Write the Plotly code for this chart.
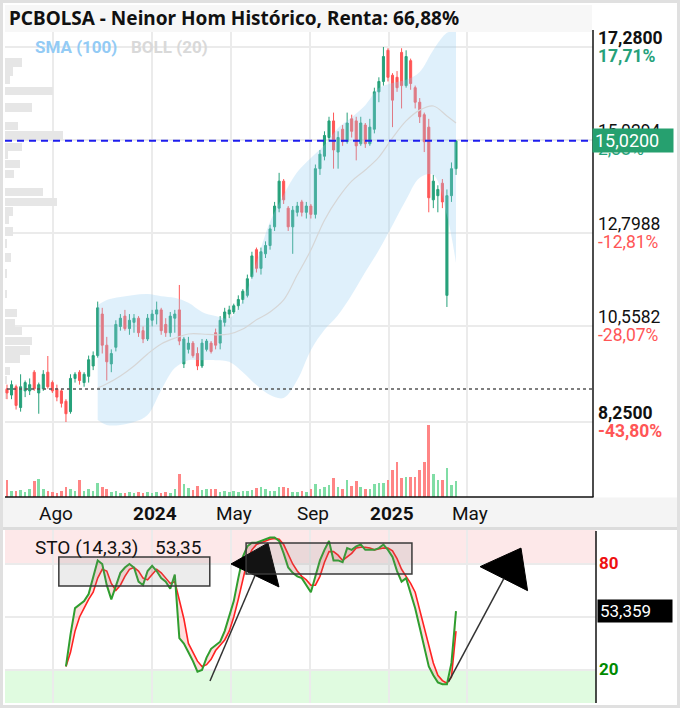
import plotly.graph_objects as go
import pandas as pd

W, H = 683, 708

# ---------------- data ----------------
START = "2023-05-22"
N = 100
dates = pd.date_range(START, periods=N, freq="7D")

OPEN = [9.05, 8.90, 9.10, 8.60, 9.00, 9.00, 9.45, 8.95, 9.05, 9.45,
        9.20, 9.05, 9.00, 8.75, 8.50, 9.30, 9.45, 9.20, 9.35, 9.60,
        9.85, 10.85, 10.10, 9.65, 10.05, 10.55, 10.80, 10.50, 10.65, 10.75,
        10.45, 10.25, 10.70, 10.85, 10.95, 10.60, 10.40, 10.75, 10.95, 9.65,
        10.00, 10.15, 9.90, 9.60, 10.00, 10.15, 10.40, 10.15, 10.65, 10.85,
        10.90, 11.05, 11.20, 11.30, 11.75, 12.40, 11.95, 12.30, 12.50, 12.95,
        13.40, 14.05, 13.40, 12.95, 13.30, 13.55, 13.30, 13.45, 13.25, 14.35,
        14.65, 15.10, 15.50, 14.75, 15.30, 15.00, 15.55, 15.50, 14.95, 15.40,
        14.95, 15.30, 16.20, 16.45, 17.20, 16.60, 16.55, 17.15, 16.35, 16.95,
        16.30, 15.95, 15.65, 15.35, 13.60, 13.70, 14.00, 11.30, 13.70, 14.35]
HIGH = [9.15, 9.25, 9.15, 9.40, 9.25, 9.30, 9.50, 9.20, 9.50, 9.84,
        9.25, 9.15, 9.05, 8.80, 9.40, 9.45, 9.50, 9.45, 9.85, 9.95,
        11.15, 11.00, 10.30, 10.00, 10.70, 10.85, 10.95, 10.85, 10.85, 10.80,
        10.55, 10.85, 10.95, 11.15, 11.00, 10.75, 10.90, 10.95, 11.55, 10.30,
        10.30, 10.20, 10.05, 10.25, 10.25, 10.20, 10.50, 10.80, 11.00, 11.05,
        11.10, 11.30, 11.45, 11.80, 12.35, 12.45, 12.45, 12.60, 13.00, 13.55,
        14.25, 14.10, 13.45, 13.45, 13.55, 13.60, 13.55, 13.50, 14.45, 14.80,
        15.25, 15.60, 15.70, 15.25, 15.40, 15.70, 15.65, 15.60, 15.60, 15.45,
        15.55, 16.30, 16.55, 17.28, 17.25, 16.65, 16.70, 17.25, 17.20, 17.00,
        16.35, 16.05, 15.70, 15.55, 14.20, 13.95, 14.10, 13.85, 14.50, 15.02]
LOW = [8.80, 8.80, 8.55, 8.50, 8.85, 8.90, 9.00, 8.45, 9.00, 9.05,
       8.95, 8.75, 8.60, 8.25, 8.45, 9.20, 9.15, 9.10, 9.20, 9.50,
       9.80, 9.90, 9.25, 9.45, 9.95, 10.45, 10.45, 10.35, 10.40, 10.30,
       10.15, 10.20, 10.55, 10.60, 10.35, 10.30, 10.30, 10.40, 10.10, 9.55,
       9.90, 9.80, 9.50, 9.55, 9.95, 9.90, 10.00, 10.00, 10.55, 10.75,
       10.85, 10.95, 11.10, 11.25, 11.70, 11.85, 11.80, 12.20, 12.40, 12.85,
       13.30, 13.50, 12.85, 12.30, 13.20, 13.20, 13.15, 13.15, 13.15, 14.20,
       14.55, 15.00, 14.35, 14.35, 14.90, 14.95, 15.10, 14.55, 14.90, 14.85,
       14.90, 15.20, 15.95, 16.35, 16.45, 15.35, 16.20, 15.80, 16.30, 16.25,
       15.80, 15.45, 14.75, 13.30, 13.40, 13.30, 13.40, 11.02, 13.55, 14.20]
CLOSE = [8.95, 9.15, 8.65, 9.10, 9.20, 9.15, 9.05, 9.15, 9.40, 9.10,
         9.00, 8.85, 8.70, 8.45, 9.30, 9.40, 9.25, 9.40, 9.75, 9.85,
         11.00, 10.10, 9.70, 9.90, 10.60, 10.75, 10.50, 10.70, 10.75, 10.40,
         10.25, 10.75, 10.85, 10.95, 10.45, 10.40, 10.80, 10.85, 10.20, 10.25,
         10.15, 9.85, 9.60, 10.15, 10.20, 9.95, 10.10, 10.70, 10.90, 10.95,
         11.05, 11.20, 11.40, 11.70, 12.25, 11.95, 12.35, 12.50, 12.90, 13.45,
         14.05, 13.60, 12.95, 13.35, 13.45, 13.30, 13.45, 13.25, 14.35, 14.70,
         15.15, 15.50, 14.80, 15.10, 15.00, 15.45, 15.25, 14.90, 15.45, 14.95,
         15.35, 16.20, 16.45, 17.05, 16.55, 16.00, 16.30, 16.35, 17.05, 16.40,
         15.95, 15.60, 15.00, 13.65, 14.05, 13.85, 13.55, 13.70, 14.35, 15.02]
VOLUME = [170000, 60000, 60000, 70000, 50000, 80000, 160000, 180000, 80000, 60000,
          50000, 40000, 60000, 100000, 80000, 60000, 170000, 60000, 80000, 60000,
          140000, 100000, 80000, 50000, 60000, 40000, 40000, 50000, 40000, 50000,
          40000, 50000, 40000, 50000, 40000, 50000, 40000, 80000, 230000, 130000,
          90000, 70000, 110000, 70000, 80000, 80000, 80000, 50000, 60000, 50000,
          60000, 50000, 60000, 60000, 70000, 90000, 100000, 80000, 60000, 60000,
          100000, 100000, 90000, 50000, 50000, 60000, 50000, 80000, 130000, 80000,
          100000, 120000, 190000, 100000, 80000, 170000, 110000, 160000, 100000, 80000,
          80000, 130000, 140000, 140000, 170000, 270000, 350000, 190000, 200000, 200000,
          200000, 270000, 350000, 720000, 230000, 170000, 170000, 290000, 120000, 160000]

# Bollinger band (20) read at selected candles
BAND_IDX = [20, 22, 25, 28, 31, 34, 37, 40, 43, 46, 49, 52, 55, 58, 61, 64, 67, 70,
            73, 76, 79, 82, 85, 88, 91, 94, 97, 99]
BOLL_UP = [11.07, 11.19, 11.26, 11.31, 11.33, 11.28, 11.24, 11.12, 10.90, 10.80,
           10.75, 11.19, 12.10, 13.07, 13.72, 14.27, 14.61, 14.92, 15.33, 15.59,
           15.88, 16.29, 16.41, 16.49, 16.68, 17.21, 17.62, 17.69]
BOLL_LOW = [8.30, 8.18, 8.18, 8.25, 8.42, 9.02, 9.55, 9.74, 9.74, 9.74,
            9.70, 9.45, 9.14, 8.90, 8.83, 9.26, 9.98, 10.47, 10.83, 11.31,
            11.86, 12.39, 12.99, 13.60, 14.13, 14.20, 13.23, 12.08]
MID_LINE = [9.07, 9.17, 9.36, 9.60, 9.89, 10.13, 10.27, 10.37, 10.37, 10.35,
            10.37, 10.49, 10.71, 10.90, 11.19, 11.79, 12.39, 13.11, 13.64, 14.05,
            14.32, 14.63, 15.09, 15.50, 15.76, 15.86, 15.62, 15.45]

# Stochastic (14,3,3), from candle 13 on
STO_START = 13
STO_K = [22, 40, 55, 57, 59, 63, 72, 82, 80, 68,
         60, 68, 75, 78, 80, 78, 70, 68, 76, 79,
         76, 72, 70, 66, 74, 38, 35, 30, 25, 19,
         20, 27, 32, 34, 36, 42, 50, 59, 72, 84,
         90, 92, 92, 93, 94, 95, 95, 93, 86, 78,
         75, 73, 72, 68, 64, 73, 82, 88, 93, 82,
         82, 81, 89, 88, 90, 91, 88, 88, 88, 89,
         91, 88, 84, 76, 70, 72, 64, 55, 44, 32,
         22, 17, 13, 12, 12, 24, 53.36]
STO_D = [22, 30, 42, 50, 55, 60, 64, 72, 77, 76,
         69, 65, 68, 73, 77, 78, 76, 72, 71, 74,
         77, 75, 72, 69, 70, 59, 49, 35, 30, 25,
         22, 23, 26, 31, 34, 37, 42, 50, 60, 71,
         82, 88, 91, 92, 93, 94, 94.5, 94, 91, 85,
         80, 76, 73, 71, 68, 68, 73, 81, 87, 87,
         85, 82, 84, 86, 89, 89.5, 89.5, 89, 88, 88.5,
         89, 89, 87.5, 83, 77, 73, 69, 64, 54, 44,
         33, 24, 17, 14, 12.5, 16, 42]

# Volume profile (left)
PROFILE_PRICE = [16.91, 16.69, 16.49, 16.22, 15.82, 15.38, 15.15, 14.88, 14.68, 14.46,
                 14.22, 13.79, 13.55, 13.32, 13.11, 12.84, 12.55, 12.21, 11.83, 11.34,
                 10.87, 10.62, 10.44, 10.20, 9.97, 9.77, 9.48, 9.26, 8.91]
PROFILE_VOL = [17000, 8000, 5000, 48000, 27000, 13000, 58000, 17000, 3000, 15000,
               9000, 38000, 52000, 8000, 4000, 8000, 1500, 6000, 2000, 2000,
               12000, 10000, 17000, 27000, 25000, 15000, 5000, 2000, 2000]

PRICE_TICKS = [17.28, 15.0294, 12.7988, 10.5582, 8.25]
PRICE_LABELS = ["17,2800", "15,0294", "12,7988", "10,5582", "8,2500"]
PCT_LABELS = ["17,71%", "2,38%", "-12,81%", "-28,07%", "-43,80%"]
LAST_PRICE = 15.02
LAST_LABEL = "15,0200"
REF_PRICE = 9.045
X_TICKS = ["2023-08-01", "2024-01-01", "2024-05-01", "2024-09-01", "2025-01-01", "2025-05-01"]
X_LABELS = ["Ago", "<b>2024</b>", "May", "Sep", "<b>2025</b>", "May"]
STO_LAST_LABEL = "53,359"
TITLE = "PCBOLSA - Neinor Hom Histórico, Renta: 66,88%"

# user drawings on the stochastic panel (date, value)
RECT1 = ("2023-08-10", "2024-03-30", 67.5, 84.0)
RECT2 = ("2024-05-25", "2025-02-05", 74.3, 91.9)
ARROW1 = dict(start=("2024-03-30 07:00", 13.8), base=("2024-06-07 19:00", 73.5),
              tri=[("2024-06-27 19:00", 91.9), ("2024-05-01 17:00", 80.0), ("2024-07-14 19:00", 67.0)])
ARROW2 = dict(start=("2025-04-02 17:00", 13.4), base=("2025-06-26 19:00", 71.7),
              tri=[("2025-07-23 08:00", 89.0), ("2025-05-21 03:00", 78.5), ("2025-08-02 12:00", 64.9)])

# ---------------- styling ----------------
GREEN = "#26a17a"
RED = "#ff5656"
FONT = "Roboto"


def fx(px):
    return px / W


def fy(py):
    return 1 - py / H


fig = go.Figure()

# volume profile (base subplot x / y)
fig.add_trace(go.Bar(y=PROFILE_PRICE, x=PROFILE_VOL, orientation="h", width=0.2,
                     marker=dict(color="#e6e6e6", line=dict(width=0)),
                     xaxis="x", yaxis="y", hoverinfo="skip", showlegend=False))

band_dates = [dates[i] for i in BAND_IDX]
fig.add_trace(go.Scatter(x=band_dates, y=BOLL_LOW, mode="lines", line=dict(width=0, shape="spline"),
                         xaxis="x2", yaxis="y", hoverinfo="skip", showlegend=False))
fig.add_trace(go.Scatter(x=band_dates, y=BOLL_UP, mode="lines", line=dict(width=0, shape="spline"),
                         fill="tonexty", fillcolor="rgba(150,205,242,0.30)",
                         xaxis="x2", yaxis="y", hoverinfo="skip", showlegend=False))
fig.add_trace(go.Scatter(x=band_dates, y=MID_LINE, mode="lines",
                         line=dict(width=1.2, color="#d6d6d6", shape="spline"),
                         xaxis="x2", yaxis="y", hoverinfo="skip", showlegend=False))

fig.add_trace(go.Candlestick(x=dates, open=OPEN, high=HIGH, low=LOW, close=CLOSE,
                             increasing=dict(line=dict(color=GREEN, width=1), fillcolor=GREEN),
                             decreasing=dict(line=dict(color=RED, width=1), fillcolor=RED),
                             whiskerwidth=0, xaxis="x2", yaxis="y", showlegend=False,
                             hoverinfo="skip"))

vol_colors = ["#80dda5" if c >= o else "#ff8585" for o, c in zip(OPEN, CLOSE)]
fig.add_trace(go.Bar(x=dates, y=VOLUME, width=4 * 86400000, marker=dict(color=vol_colors, line=dict(width=0)),
                     xaxis="x2", yaxis="y2", hoverinfo="skip", showlegend=False))

# stochastic
sto_dates = dates[STO_START:]
fig.add_trace(go.Scatter(x=sto_dates, y=STO_D, mode="lines", line=dict(color="#ff2222", width=1.6),
                         xaxis="x3", yaxis="y3", hoverinfo="skip", showlegend=False))
fig.add_trace(go.Scatter(x=sto_dates, y=STO_K, mode="lines", line=dict(color="#2f9e2f", width=2),
                         fill="tonexty", fillcolor="rgba(255,90,90,0.20)",
                         xaxis="x3", yaxis="y3", hoverinfo="skip", showlegend=False))

# arrow heads (drawings)
for arr in (ARROW1, ARROW2):
    tx = [p[0] for p in arr["tri"]] + [arr["tri"][0][0]]
    ty = [p[1] for p in arr["tri"]] + [arr["tri"][0][1]]
    fig.add_trace(go.Scatter(x=tx, y=ty, mode="lines", fill="toself", fillcolor="black",
                             line=dict(color="black", width=1), xaxis="x3", yaxis="y3",
                             hoverinfo="skip", showlegend=False))

main_x_range = ["2023-05-18 22:00", "2025-11-11 11:00"]
sto_x_range = ["2023-05-18 22:00", "2025-11-16 02:00"]
grid = "#ebebeb"

fig.update_layout(
    width=W, height=H, autosize=False,
    margin=dict(l=0, r=0, t=0, b=0, pad=0),
    paper_bgcolor="white", plot_bgcolor="rgba(0,0,0,0)",
    showlegend=False, boxgap=0.35, bargap=0,
    xaxis=dict(domain=[fx(5), fx(593)], range=[0, 588000], visible=False, fixedrange=True),
    xaxis2=dict(type="date", overlaying="x", anchor="y", range=main_x_range,
                tickvals=X_TICKS, showticklabels=False, showgrid=True, gridcolor=grid, gridwidth=2,
                zeroline=False, showline=False, ticks="", rangeslider=dict(visible=False)),
    yaxis=dict(domain=[fy(497), fy(5)], range=[6.445, 18.291], tickvals=PRICE_TICKS,
               showticklabels=False, showgrid=True, gridcolor=grid, gridwidth=2,
               zeroline=False, showline=False, ticks=""),
    yaxis2=dict(overlaying="y", range=[0, 4920000], visible=False),
    xaxis3=dict(type="date", domain=[fx(5), fx(596)], anchor="y3", range=sto_x_range,
                tickvals=X_TICKS, showticklabels=False, showgrid=True, gridcolor=grid, gridwidth=2,
                zeroline=False, showline=False, ticks=""),
    yaxis3=dict(domain=[fy(703), fy(530)], anchor="x3", range=[1.32, 99.23], tickvals=[20, 50, 80],
                showticklabels=False, showgrid=True, gridcolor=grid, gridwidth=2,
                zeroline=False, showline=False, ticks=""),
)

shapes = []
# stochastic zones
shapes.append(dict(type="rect", xref="paper", yref="y3", x0=fx(5), x1=fx(596), y0=80, y1=99.23,
                   fillcolor="#fde8e9", line=dict(width=0), layer="below"))
shapes.append(dict(type="rect", xref="paper", yref="y3", x0=fx(5), x1=fx(596), y0=1.32, y1=20,
                   fillcolor="#e0fbe0", line=dict(width=0), layer="below"))
# reference lines
shapes.append(dict(type="line", xref="paper", yref="y", x0=fx(5), x1=fx(593), y0=LAST_PRICE, y1=LAST_PRICE,
                   line=dict(color="#1d1dee", width=2, dash="7px,5px"), layer="above"))
shapes.append(dict(type="line", xref="paper", yref="y", x0=fx(7), x1=fx(593), y0=REF_PRICE, y1=REF_PRICE,
                   line=dict(color="#555555", width=1.5, dash="3px,3px"), layer="above"))
# drawings
for r in (RECT1, RECT2):
    shapes.append(dict(type="rect", xref="x3", yref="y3", x0=r[0], x1=r[1], y0=r[2], y1=r[3],
                       fillcolor="rgba(130,130,130,0.15)", line=dict(color="#3a3a3a", width=1.5),
                       layer="above"))
for arr in (ARROW1, ARROW2):
    shapes.append(dict(type="line", xref="x3", yref="y3", x0=arr["start"][0], y0=arr["start"][1],
                       x1=arr["base"][0], y1=arr["base"][1], line=dict(color="#333333", width=1.5),
                       layer="above"))
# frame pieces
shapes.append(dict(type="rect", xref="paper", yref="paper", x0=fx(5), x1=fx(592), y0=fy(32), y1=fy(5),
                   fillcolor="#f7f7f7", line=dict(width=0), layer="above"))
shapes.append(dict(type="rect", xref="paper", yref="paper", x0=fx(3), x1=fx(678), y0=fy(527), y1=fy(497.5),
                   fillcolor="#f4f4f4", line=dict(width=0), layer="above"))
shapes.append(dict(type="line", xref="paper", yref="paper", x0=fx(2), x1=fx(679), y0=fy(528.5), y1=fy(528.5),
                   line=dict(color="#dcdcdc", width=3), layer="above"))
shapes.append(dict(type="line", xref="paper", yref="paper", x0=fx(5), x1=fx(593.5), y0=fy(497), y1=fy(497),
                   line=dict(color="#111111", width=1.5), layer="above"))
shapes.append(dict(type="line", xref="paper", yref="paper", x0=fx(593), x1=fx(593), y0=fy(497), y1=fy(30),
                   line=dict(color="#111111", width=1.5), layer="above"))
shapes.append(dict(type="line", xref="paper", yref="paper", x0=fx(596), x1=fx(596), y0=fy(703), y1=fy(531),
                   line=dict(color="#111111", width=1.5), layer="above"))
shapes.append(dict(type="rect", xref="paper", yref="paper", x0=fx(1.5), x1=fx(678.5), y0=fy(706.5), y1=fy(1.5),
                   line=dict(color="#e0e0e0", width=3), fillcolor="rgba(0,0,0,0)", layer="above"))
fig.update_layout(shapes=shapes)

ann = []
ann.append(dict(text="<b>" + TITLE + "</b>", xref="paper", yref="paper", x=fx(7), y=fy(18.5),
                xanchor="left", yanchor="middle", showarrow=False,
                font=dict(family="Noto Sans", size=19, color="#111111")))
ann.append(dict(text="<b>SMA (100)</b>", xref="paper", yref="paper", x=fx(33), y=fy(47),
                xanchor="left", yanchor="middle", showarrow=False,
                font=dict(family=FONT, size=17, color="#93cbf5")))
ann.append(dict(text="<b>BOLL (20)</b>", xref="paper", yref="paper", x=fx(129), y=fy(47),
                xanchor="left", yanchor="middle", showarrow=False,
                font=dict(family=FONT, size=17, color="#d9d9d9")))
for d, lab in zip(X_TICKS, X_LABELS):
    ann.append(dict(text=lab, xref="x2", yref="paper", x=d, y=fy(513), xshift=3,
                    xanchor="center", yanchor="middle", showarrow=False,
                    font=dict(family=FONT, size=19, color="#111111")))
pct_colors = [GREEN, GREEN, RED, RED, RED]
for i, (v, pl, pc) in enumerate(zip(PRICE_TICKS, PRICE_LABELS, PCT_LABELS)):
    bold = i in (0, 4)
    ann.append(dict(text=("<b>%s</b>" % pl) if bold else pl, xref="paper", yref="y", x=fx(596), y=v,
                    yshift=9, xanchor="left", yanchor="middle", showarrow=False,
                    font=dict(family=FONT, size=17.5, color="#111111")))
    ann.append(dict(text=("<b>%s</b>" % pc) if bold else pc, xref="paper", yref="y", x=fx(596), y=v,
                    yshift=-9, xanchor="left", yanchor="middle", showarrow=False,
                    font=dict(family=FONT, size=17.5, color=pct_colors[i])))
ann.append(dict(text=LAST_LABEL, xref="paper", yref="y", x=fx(592), y=LAST_PRICE,
                xanchor="left", yanchor="middle", showarrow=False, bgcolor="#26a06f",
                width=76, height=19, borderpad=2, align="left",
                font=dict(family=FONT, size=18, color="white")))
ann.append(dict(text="STO (14,3,3)", xref="paper", yref="paper", x=fx(33), y=fy(547),
                xanchor="left", yanchor="middle", showarrow=False,
                font=dict(family=FONT, size=19, color="#111111")))
ann.append(dict(text="53,35", xref="paper", yref="paper", x=fx(153), y=fy(547),
                xanchor="left", yanchor="middle", showarrow=False,
                font=dict(family=FONT, size=19, color="#111111")))
ann.append(dict(text="<b>80</b>", xref="paper", yref="y3", x=fx(597), y=80, yshift=1,
                xanchor="left", yanchor="middle", showarrow=False,
                font=dict(family=FONT, size=17, color="#ee1111")))
ann.append(dict(text="<b>20</b>", xref="paper", yref="y3", x=fx(597), y=20, yshift=1,
                xanchor="left", yanchor="middle", showarrow=False,
                font=dict(family=FONT, size=17, color="#008a00")))
ann.append(dict(text=STO_LAST_LABEL, xref="paper", yref="y3", x=fx(597), y=STO_K[-1],
                xanchor="left", yanchor="middle", showarrow=False, bgcolor="black",
                width=70, height=18, borderpad=2, align="left",
                font=dict(family=FONT, size=17, color="white")))
fig.update_layout(annotations=ann)

fig.write_html("out.html", config={"displayModeBar": False},
               post_script="document.body.style.margin='0';document.body.style.overflow='hidden';")
